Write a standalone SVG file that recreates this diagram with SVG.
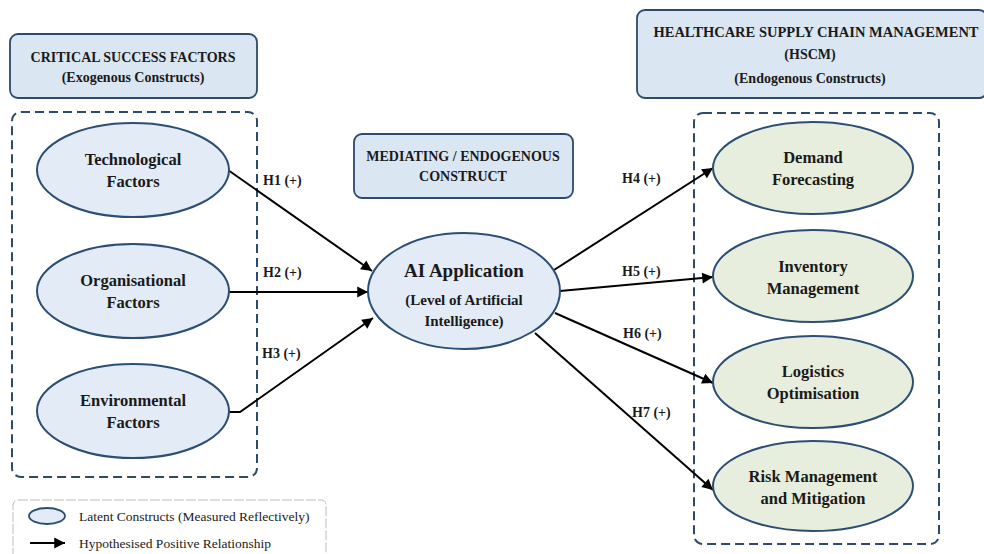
<svg xmlns="http://www.w3.org/2000/svg" width="984" height="554" viewBox="0 0 984 554">
<style>
.hdr{fill:#dae6f2;stroke:#2c4a6c;stroke-width:1.8}
.grp{fill:none;stroke:#2c4a6c;stroke-width:2;stroke-dasharray:9 5}
.lat{fill:#e3ebf6;stroke:#2b4e74;stroke-width:2}
.hs{fill:#e7eedd;stroke:#2b4e74;stroke-width:2}
.t{font-family:"Liberation Serif","Times New Roman",serif;font-weight:bold;fill:#1a1a1a;text-anchor:middle}
.h{font-size:14px}
.n{font-size:16.5px}
.lab{font-family:"Liberation Serif","Times New Roman",serif;font-weight:bold;font-size:14px;fill:#1a1a1a}
.leg{font-family:"Liberation Serif","Times New Roman",serif;font-size:13.5px;fill:#222}
.c{fill:none;stroke:#000;stroke-width:2;marker-end:url(#ah)}
</style>
<defs>
<marker id="ah" viewBox="0 0 10 10" refX="10" refY="5" markerWidth="6" markerHeight="6" markerUnits="userSpaceOnUse" orient="auto" style="overflow:visible">
<path d="M0,0 L10,5 L0,10 z" fill="#000" transform="scale(1.8) translate(-4.4,-2.2)"/>
</marker>
</defs>
<rect width="984" height="554" fill="#fff"/>

<g id="header-csf">
<rect class="hdr" x="10" y="34" width="247" height="64" rx="8"/>
<text class="t h" x="133" y="62">CRITICAL SUCCESS FACTORS</text>
<text class="t h" x="133" y="82">(Exogenous Constructs)</text>
</g>
<g id="header-mediating">
<rect class="hdr" x="354" y="134" width="219" height="64" rx="8"/>
<text class="t h" x="463" y="161">MEDIATING / ENDOGENOUS</text>
<text class="t h" x="463" y="181">CONSTRUCT</text>
</g>
<g id="header-hscm">
<rect class="hdr" x="637" y="10" width="350" height="88" rx="8"/>
<text class="t" x="816" y="37" style="font-size:14.5px">HEALTHCARE SUPPLY CHAIN MANAGEMENT</text>
<text class="t h" x="810" y="59">(HSCM)</text>
<text class="t h" x="810" y="83">(Endogenous Constructs)</text>
</g>

<g id="group-exogenous"><rect class="grp" x="12" y="112" width="245" height="365" rx="9"/></g>
<g id="group-hscm"><rect class="grp" x="694" y="113" width="245" height="431" rx="9"/></g>

<g id="connectors">
<path class="c" d="M228,170 L372,271"/>
<path class="c" d="M229,292 L368,292"/>
<path class="c" d="M229,412 L240,412 L373,318"/>
<path class="c" d="M554,270 L713,168"/>
<path class="c" d="M560,291 L713,277"/>
<path class="c" d="M555,313 L713,383"/>
<path class="c" d="M535,333 L713,490"/>
<text class="lab" x="263" y="185">H1 (+)</text>
<text class="lab" x="263" y="277">H2 (+)</text>
<text class="lab" x="262" y="358">H3 (+)</text>
<text class="lab" x="622" y="183">H4 (+)</text>
<text class="lab" x="622" y="276">H5 (+)</text>
<text class="lab" x="623" y="338">H6 (+)</text>
<text class="lab" x="632" y="417">H7 (+)</text>
</g>

<g id="technological">
<ellipse class="lat" cx="133" cy="170" rx="96" ry="47"/>
<text class="t n" x="133" y="165">Technological</text>
<text class="t n" x="133" y="187">Factors</text>
</g>
<g id="organisational">
<ellipse class="lat" cx="133" cy="291" rx="96" ry="47"/>
<text class="t n" x="133" y="286">Organisational</text>
<text class="t n" x="133" y="308">Factors</text>
</g>
<g id="environmental">
<ellipse class="lat" cx="133" cy="411" rx="96" ry="47"/>
<text class="t n" x="133" y="406">Environmental</text>
<text class="t n" x="133" y="428">Factors</text>
</g>

<g id="ai-application">
<ellipse class="lat" cx="464" cy="291" rx="96" ry="58"/>
<text class="t" x="464" y="277" style="font-size:19px">AI Application</text>
<text class="t" x="464" y="305" style="font-size:15px">(Level of Artificial</text>
<text class="t" x="464" y="326" style="font-size:15px">Intelligence)</text>
</g>

<g id="demand">
<ellipse class="hs" cx="813" cy="168" rx="100" ry="46"/>
<text class="t n" x="813" y="163">Demand</text>
<text class="t n" x="813" y="185">Forecasting</text>
</g>
<g id="inventory">
<ellipse class="hs" cx="813" cy="276" rx="100" ry="46"/>
<text class="t n" x="813" y="272">Inventory</text>
<text class="t n" x="813" y="294">Management</text>
</g>
<g id="logistics">
<ellipse class="hs" cx="813" cy="382" rx="100" ry="46"/>
<text class="t n" x="813" y="377">Logistics</text>
<text class="t n" x="813" y="399">Optimisation</text>
</g>
<g id="risk">
<ellipse class="hs" cx="813" cy="486" rx="100" ry="45"/>
<text class="t n" x="813" y="482">Risk Management</text>
<text class="t n" x="813" y="504">and Mitigation</text>
</g>

<g id="legend">
<rect x="13" y="500" width="313" height="70" rx="5" fill="#fff" stroke="#bdbdbd" stroke-width="1" stroke-dasharray="10 2"/>
<ellipse cx="47" cy="516" rx="18" ry="8" fill="#e3ebf6" stroke="#2b4e74" stroke-width="1.8"/>
<text class="leg" x="79" y="521">Latent Constructs (Measured Reflectively)</text>
<path class="c" d="M30,543 L65,543" style="stroke-width:1.8"/>
<text class="leg" x="79" y="548">Hypothesised Positive Relationship</text>
</g>
</svg>
